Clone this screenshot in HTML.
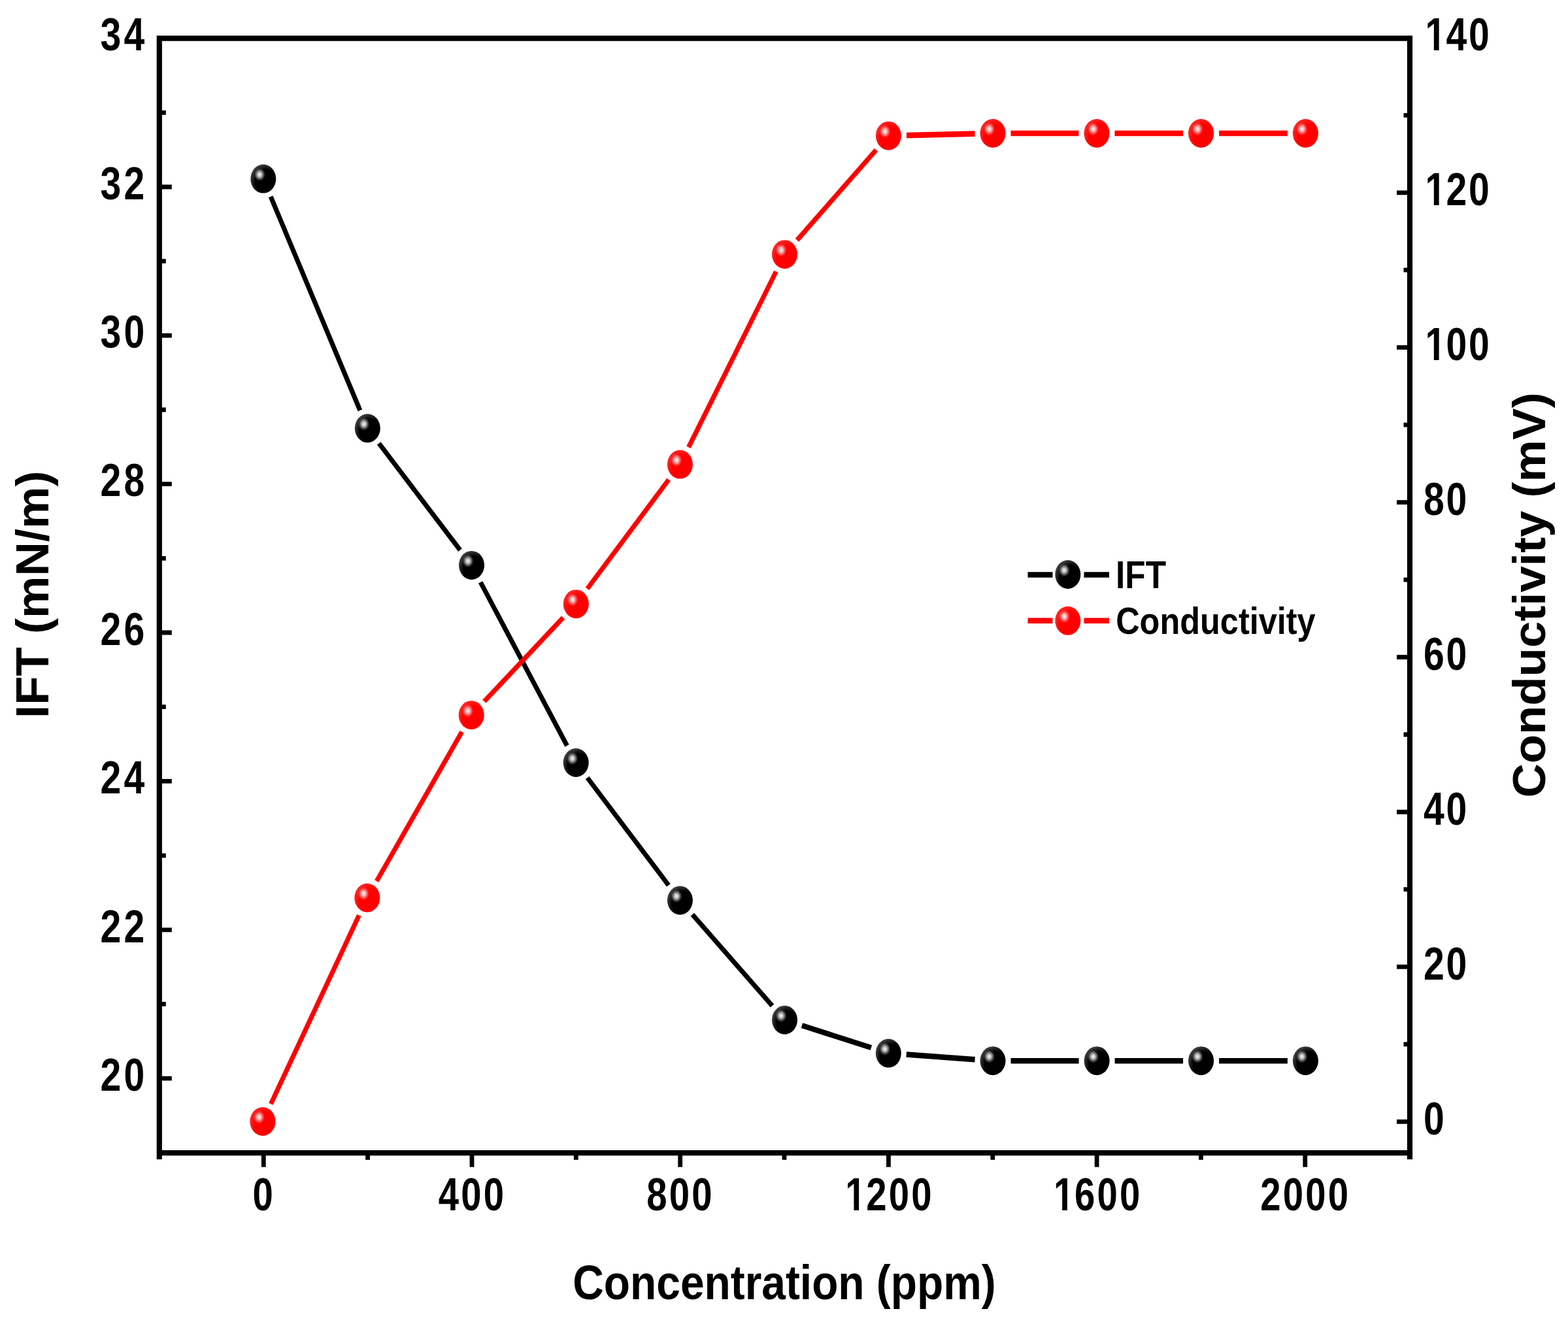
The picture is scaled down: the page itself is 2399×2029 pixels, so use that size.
<!DOCTYPE html>
<html><head><meta charset="utf-8"><title>IFT and Conductivity vs Concentration</title>
<style>
html,body{margin:0;padding:0;background:#fff;}
svg{display:block;}
text{font-family:'Liberation Sans', Arial, sans-serif;font-weight:bold;fill:#000;}
</style></head><body>
<svg width="2399" height="2029" viewBox="0 0 2399 2029">
<defs>
<radialGradient id="hlk" cx="0.5" cy="0.5" r="0.5">
<stop offset="0" stop-color="#f6f6f6" stop-opacity="1"/>
<stop offset="0.3" stop-color="#cfcfcf" stop-opacity="0.95"/>
<stop offset="0.6" stop-color="#8a8a8a" stop-opacity="0.7"/>
<stop offset="0.85" stop-color="#333" stop-opacity="0.35"/>
<stop offset="1" stop-color="#000" stop-opacity="0"/>
</radialGradient>
<radialGradient id="hlr" cx="0.5" cy="0.5" r="0.5">
<stop offset="0" stop-color="#fff4f4" stop-opacity="1"/>
<stop offset="0.3" stop-color="#ffc8c8" stop-opacity="0.95"/>
<stop offset="0.6" stop-color="#ff8484" stop-opacity="0.7"/>
<stop offset="0.85" stop-color="#ff3030" stop-opacity="0.35"/>
<stop offset="1" stop-color="#f00" stop-opacity="0"/>
</radialGradient>
<radialGradient id="rimk" cx="0.62" cy="0.62" r="0.62">
<stop offset="0.7" stop-color="#000"/>
<stop offset="1" stop-color="#3a3a3a"/>
</radialGradient>
<radialGradient id="rimr" cx="0.62" cy="0.62" r="0.62">
<stop offset="0.7" stop-color="#f00"/>
<stop offset="1" stop-color="#f22"/>
</radialGradient>
</defs>
<rect width="2399" height="2029" fill="#fff"/>

<path d="M414.2 300.9L550.9 628.0" stroke="#000" stroke-width="7.20" fill="none"/>
<path d="M579.8 678.4L704.0 841.8" stroke="#000" stroke-width="7.23" fill="none"/>
<path d="M735.2 890.9L867.5 1141.0" stroke="#000" stroke-width="7.20" fill="none"/>
<path d="M898.7 1190.1L1022.9 1354.6" stroke="#000" stroke-width="7.22" fill="none"/>
<path d="M1059.4 1399.4L1181.5 1539.0" stroke="#000" stroke-width="7.25" fill="none"/>
<path d="M1226.9 1569.2L1332.9 1603.1" stroke="#000" stroke-width="8.15" fill="none"/>
<path d="M1386.7 1613.6L1491.6 1621.2" stroke="#000" stroke-width="8.57" fill="none"/>
<path d="M1546.5 1623.2L1650.6 1623.2" stroke="#000" stroke-width="8.60" fill="none"/>
<path d="M1705.6 1623.2L1810.1 1623.2" stroke="#000" stroke-width="8.60" fill="none"/>
<path d="M1865.1 1623.2L1969.9 1623.2" stroke="#000" stroke-width="8.60" fill="none"/>
<path d="M414.4 1689.3L549.3 1400.5" stroke="#f00" stroke-width="7.20" fill="none"/>
<path d="M576.3 1348.3L706.7 1119.7" stroke="#f00" stroke-width="7.21" fill="none"/>
<path d="M740.9 1073.3L861.6 945.1" stroke="#f00" stroke-width="7.27" fill="none"/>
<path d="M898.6 900.9L1023.1 733.9" stroke="#f00" stroke-width="7.22" fill="none"/>
<path d="M1053.5 684.3L1187.4 415.5" stroke="#f00" stroke-width="7.20" fill="none"/>
<path d="M1219.5 367.5L1340.4 229.4" stroke="#f00" stroke-width="7.25" fill="none"/>
<path d="M1386.9 207.1L1491.5 204.6" stroke="#f00" stroke-width="8.60" fill="none"/>
<path d="M1546.5 204.0L1650.5 204.0" stroke="#f00" stroke-width="8.60" fill="none"/>
<path d="M1705.5 204.0L1810.1 204.0" stroke="#f00" stroke-width="8.60" fill="none"/>
<path d="M1865.1 204.0L1969.9 204.0" stroke="#f00" stroke-width="8.60" fill="none"/>
<ellipse cx="402.8" cy="273.6" rx="19.5" ry="22.0" fill="url(#rimk)"/><ellipse cx="397.3" cy="267.1" rx="9.5" ry="11" fill="url(#hlk)"/>
<ellipse cx="562.3" cy="655.3" rx="19.5" ry="22.0" fill="url(#rimk)"/><ellipse cx="556.8" cy="648.8" rx="9.5" ry="11" fill="url(#hlk)"/>
<ellipse cx="721.5" cy="864.9" rx="19.5" ry="22.0" fill="url(#rimk)"/><ellipse cx="716.0" cy="858.4" rx="9.5" ry="11" fill="url(#hlk)"/>
<ellipse cx="881.2" cy="1167.0" rx="19.5" ry="22.0" fill="url(#rimk)"/><ellipse cx="875.7" cy="1160.5" rx="9.5" ry="11" fill="url(#hlk)"/>
<ellipse cx="1040.4" cy="1377.7" rx="19.5" ry="22.0" fill="url(#rimk)"/><ellipse cx="1034.9" cy="1371.2" rx="9.5" ry="11" fill="url(#hlk)"/>
<ellipse cx="1200.5" cy="1560.7" rx="19.5" ry="22.0" fill="url(#rimk)"/><ellipse cx="1195.0" cy="1554.2" rx="9.5" ry="11" fill="url(#hlk)"/>
<ellipse cx="1359.3" cy="1611.6" rx="19.5" ry="22.0" fill="url(#rimk)"/><ellipse cx="1353.8" cy="1605.1" rx="9.5" ry="11" fill="url(#hlk)"/>
<ellipse cx="1519.0" cy="1623.2" rx="19.5" ry="22.0" fill="url(#rimk)"/><ellipse cx="1513.5" cy="1616.7" rx="9.5" ry="11" fill="url(#hlk)"/>
<ellipse cx="1678.1" cy="1623.2" rx="19.5" ry="22.0" fill="url(#rimk)"/><ellipse cx="1672.6" cy="1616.7" rx="9.5" ry="11" fill="url(#hlk)"/>
<ellipse cx="1837.6" cy="1623.2" rx="19.5" ry="22.0" fill="url(#rimk)"/><ellipse cx="1832.1" cy="1616.7" rx="9.5" ry="11" fill="url(#hlk)"/>
<ellipse cx="1997.4" cy="1623.2" rx="19.5" ry="22.0" fill="url(#rimk)"/><ellipse cx="1991.9" cy="1616.7" rx="9.5" ry="11" fill="url(#hlk)"/>
<ellipse cx="401.9" cy="1716.0" rx="19.5" ry="22.0" fill="url(#rimr)"/><ellipse cx="396.4" cy="1709.5" rx="9.5" ry="11" fill="url(#hlr)"/>
<ellipse cx="561.8" cy="1373.8" rx="19.5" ry="22.0" fill="url(#rimr)"/><ellipse cx="556.3" cy="1367.3" rx="9.5" ry="11" fill="url(#hlr)"/>
<ellipse cx="721.2" cy="1094.2" rx="19.5" ry="22.0" fill="url(#rimr)"/><ellipse cx="715.7" cy="1087.7" rx="9.5" ry="11" fill="url(#hlr)"/>
<ellipse cx="881.3" cy="924.2" rx="19.5" ry="22.0" fill="url(#rimr)"/><ellipse cx="875.8" cy="917.7" rx="9.5" ry="11" fill="url(#hlr)"/>
<ellipse cx="1040.4" cy="710.6" rx="19.5" ry="22.0" fill="url(#rimr)"/><ellipse cx="1034.9" cy="704.1" rx="9.5" ry="11" fill="url(#hlr)"/>
<ellipse cx="1200.5" cy="389.2" rx="19.5" ry="22.0" fill="url(#rimr)"/><ellipse cx="1195.0" cy="382.7" rx="9.5" ry="11" fill="url(#hlr)"/>
<ellipse cx="1359.4" cy="207.7" rx="19.5" ry="22.0" fill="url(#rimr)"/><ellipse cx="1353.9" cy="201.2" rx="9.5" ry="11" fill="url(#hlr)"/>
<ellipse cx="1519.0" cy="204.0" rx="19.5" ry="22.0" fill="url(#rimr)"/><ellipse cx="1513.5" cy="197.5" rx="9.5" ry="11" fill="url(#hlr)"/>
<ellipse cx="1678.0" cy="204.0" rx="19.5" ry="22.0" fill="url(#rimr)"/><ellipse cx="1672.5" cy="197.5" rx="9.5" ry="11" fill="url(#hlr)"/>
<ellipse cx="1837.6" cy="204.0" rx="19.5" ry="22.0" fill="url(#rimr)"/><ellipse cx="1832.1" cy="197.5" rx="9.5" ry="11" fill="url(#hlr)"/>
<ellipse cx="1997.4" cy="204.0" rx="19.5" ry="22.0" fill="url(#rimr)"/><ellipse cx="1991.9" cy="197.5" rx="9.5" ry="11" fill="url(#hlr)"/>
<path d="M243.8 54.5V1774M2157.0 54.5V1774M239.70000000000002 58.6H2161.1M239.70000000000002 1764.2H2161.1" stroke="#000" stroke-width="8.2" fill="none"/>
<path d="M403.3 1764.2V1785.7M562.6 1764.2V1774.7M722.0 1764.2V1785.7M881.3 1764.2V1774.7M1040.7 1764.2V1785.7M1200.0 1764.2V1774.7M1359.4 1764.2V1785.7M1518.8 1764.2V1774.7M1678.1 1764.2V1785.7M1837.4 1764.2V1774.7M1996.8 1764.2V1785.7M243.8 1650.1H262.8M243.8 1536.4H253.8M243.8 1422.8H262.8M243.8 1309.1H253.8M243.8 1195.4H262.8M243.8 1081.7H253.8M243.8 968.0H262.8M243.8 854.4H253.8M243.8 740.7H262.8M243.8 627.0H253.8M243.8 513.3H262.8M243.8 399.6H253.8M243.8 286.0H262.8M243.8 172.3H253.8M2157.0 1716.3H2137.0M2157.0 1597.8H2147.5M2157.0 1479.4H2137.0M2157.0 1360.9H2147.5M2157.0 1242.5H2137.0M2157.0 1124.0H2147.5M2157.0 1005.5H2137.0M2157.0 887.1H2147.5M2157.0 768.6H2137.0M2157.0 650.2H2147.5M2157.0 531.7H2137.0M2157.0 413.2H2147.5M2157.0 294.8H2137.0M2157.0 176.3H2147.5" stroke="#000" stroke-width="6.8" fill="none"/>
<text transform="translate(0 1668.8) scale(0.81 1)" x="189.56 234.00" font-size="70.5">20</text>
<text transform="translate(0 1441.5) scale(0.81 1)" x="189.56 234.00" font-size="70.5">22</text>
<text transform="translate(0 1214.1) scale(0.81 1)" x="189.56 234.00" font-size="70.5">24</text>
<text transform="translate(0 986.8) scale(0.81 1)" x="189.56 234.00" font-size="70.5">26</text>
<text transform="translate(0 759.4) scale(0.81 1)" x="189.56 234.00" font-size="70.5">28</text>
<text transform="translate(0 532.0) scale(0.81 1)" x="189.56 234.00" font-size="70.5">30</text>
<text transform="translate(0 304.7) scale(0.81 1)" x="189.56 234.00" font-size="70.5">32</text>
<text transform="translate(0 77.3) scale(0.81 1)" x="189.56 234.00" font-size="70.5">34</text>
<text transform="translate(0 1735.8) scale(0.81 1)" x="2688.89" font-size="70.5">0</text>
<text transform="translate(0 1498.9) scale(0.81 1)" x="2688.89 2731.48" font-size="70.5">20</text>
<text transform="translate(0 1262.0) scale(0.81 1)" x="2688.89 2731.48" font-size="70.5">40</text>
<text transform="translate(0 1025.1) scale(0.81 1)" x="2688.89 2731.48" font-size="70.5">60</text>
<text transform="translate(0 788.1) scale(0.81 1)" x="2688.89 2731.48" font-size="70.5">80</text>
<text transform="translate(0 551.2) scale(0.81 1)" x="2691.98 2731.48 2774.07" font-size="70.5">100</text><rect x="2183.10" y="542.53" width="10.73" height="9.89" fill="#fff"/><rect x="2201.66" y="542.53" width="10.01" height="9.89" fill="#fff"/>
<text transform="translate(0 314.3) scale(0.81 1)" x="2691.98 2731.48 2774.07" font-size="70.5">120</text><rect x="2183.10" y="305.61" width="10.73" height="9.89" fill="#fff"/><rect x="2201.66" y="305.61" width="10.01" height="9.89" fill="#fff"/>
<text transform="translate(0 77.4) scale(0.81 1)" x="2691.98 2731.48 2774.07" font-size="70.5">140</text><rect x="2183.10" y="68.69" width="10.73" height="9.89" fill="#fff"/><rect x="2201.66" y="68.69" width="10.01" height="9.89" fill="#fff"/>
<text transform="translate(0 1852.2) scale(0.81 1)" x="477.09" font-size="69.5">0</text>
<text transform="translate(0 1852.2) scale(0.81 1)" x="827.96 870.55 913.14" font-size="69.5">400</text>
<text transform="translate(0 1852.2) scale(0.81 1)" x="1221.41 1264.01 1306.60" font-size="69.5">800</text>
<text transform="translate(0 1852.2) scale(0.81 1)" x="1596.66 1636.17 1678.76 1721.35" font-size="69.5">1200</text><rect x="1295.84" y="1843.61" width="10.59" height="9.79" fill="#fff"/><rect x="1314.16" y="1843.61" width="9.88" height="9.79" fill="#fff"/>
<text transform="translate(0 1852.2) scale(0.81 1)" x="1990.12 2029.62 2072.22 2114.81" font-size="69.5">1600</text><rect x="1614.54" y="1843.61" width="10.59" height="9.79" fill="#fff"/><rect x="1632.86" y="1843.61" width="9.88" height="9.79" fill="#fff"/>
<text transform="translate(0 1852.2) scale(0.81 1)" x="2380.49 2423.08 2465.67 2508.27" font-size="69.5">2000</text>
<text transform="translate(1200 1988) scale(0.89 1)" font-size="74" text-anchor="middle">Concentration (ppm)</text>
<text transform="translate(74.3 909.7) rotate(-90) scale(1 0.975)" font-size="72.5" text-anchor="middle">IFT (mN/m)</text>
<text transform="translate(2363.8 910.5) rotate(-90) scale(1 0.975)" font-size="72.5" text-anchor="middle">Conductivity (mV)</text>
<path d="M1572.5 879.6H1610.5M1658.5 879.6H1697" stroke="#000" stroke-width="8.5"/>
<path d="M1572.5 949.8H1610.5M1658.5 949.8H1697" stroke="#f00" stroke-width="8.5"/>
<ellipse cx="1633.8" cy="879.0" rx="19.5" ry="22.0" fill="url(#rimk)"/><ellipse cx="1628.3" cy="872.5" rx="9.5" ry="11" fill="url(#hlk)"/>
<ellipse cx="1633.8" cy="949.8" rx="19.5" ry="22.0" fill="url(#rimr)"/><ellipse cx="1628.3" cy="943.3" rx="9.5" ry="11" fill="url(#hlr)"/>
<text transform="translate(1707.0 899.5) scale(0.865 1)" font-size="59.5" text-anchor="start">IFT</text>
<text transform="translate(1707.2 970.2) scale(0.885 1)" font-size="57" text-anchor="start">Conductivity</text>
</svg>
</body></html>
